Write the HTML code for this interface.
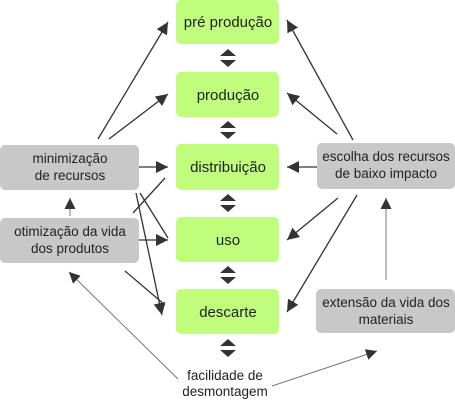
<!DOCTYPE html>
<html><head><meta charset="utf-8"><style>
html,body{margin:0;padding:0;background:#fff;}
svg{display:block;font-family:"Liberation Sans","DejaVu Sans",sans-serif;}
text{font-size:15px;fill:#222;text-anchor:middle;}
</style></head><body>
<svg width="455" height="400" viewBox="0 0 455 400">
<defs>
<marker id="a" viewBox="0 0 10 10" refX="10" refY="5" markerWidth="12" markerHeight="12" markerUnits="userSpaceOnUse" orient="auto"><path d="M0,0L10,5L0,10z" fill="#333"/></marker>
<marker id="g" viewBox="0 0 10 10" refX="10" refY="5" markerWidth="11" markerHeight="14" markerUnits="userSpaceOnUse" orient="auto"><path d="M0,0L10,5L0,10z" fill="#333"/></marker>
</defs>
<g fill="#c1fd7d">
<rect x="176" y="0" width="103" height="44" rx="5"/>
<rect x="176" y="72" width="103" height="45" rx="5"/>
<rect x="176" y="144" width="103" height="46" rx="5"/>
<rect x="176" y="217" width="103" height="45" rx="5"/>
<rect x="176" y="289" width="103" height="45" rx="5"/>
</g>
<g fill="#c8c8c8">
<rect x="0" y="145" width="139" height="45" rx="5"/>
<rect x="0" y="218" width="139" height="45" rx="5"/>
<rect x="317" y="143" width="138" height="46" rx="5"/>
<rect x="316" y="289" width="139" height="44" rx="5"/>
</g>
<g fill="#333">
<path d="M228,49l8,7h-16z M228,67l8,-7h-16z"/>
<path d="M228,121l8,7h-16z M228,139l8,-7h-16z"/>
<path d="M228,194l8,7h-16z M228,212l8,-7h-16z"/>
<path d="M228,266l8,7h-16z M228,284l8,-7h-16z"/>
<path d="M228,339l8,7h-16z M228,357l8,-7h-16z"/>
</g>
<g stroke="#333" stroke-width="1.3" fill="none">
<line x1="98" y1="139" x2="168" y2="22" marker-end="url(#a)"/>
<line x1="109" y1="139" x2="168" y2="94" marker-end="url(#a)"/>
<line x1="139" y1="167" x2="168" y2="167" marker-end="url(#a)"/>
<line x1="139" y1="240" x2="168" y2="240" marker-end="url(#a)"/>
<line x1="133" y1="213" x2="165" y2="178"/>
<line x1="140" y1="193" x2="168" y2="238"/>
<line x1="136" y1="193" x2="162" y2="315" marker-end="url(#a)"/>
<line x1="125" y1="271" x2="165" y2="305"/>
<line x1="353" y1="140" x2="287" y2="20" marker-end="url(#a)"/>
<line x1="337" y1="134" x2="287" y2="93" marker-end="url(#a)"/>
<line x1="317" y1="167" x2="287" y2="167" marker-end="url(#a)"/>
<line x1="338" y1="198" x2="287" y2="240" marker-end="url(#a)"/>
<line x1="357" y1="195" x2="287" y2="312" marker-end="url(#a)"/>
</g>
<g stroke="#777" stroke-width="1" fill="none">
<line x1="70" y1="216" x2="70" y2="198" marker-end="url(#g)"/>
<line x1="386" y1="280" x2="386" y2="198" marker-end="url(#g)"/>
<line x1="178" y1="379" x2="69" y2="272" marker-end="url(#g)"/>
<line x1="272" y1="386" x2="377" y2="351" marker-end="url(#g)"/>
</g>
<text x="228" y="27">pré produção</text>
<text x="228" y="100">produção</text>
<text x="228" y="172">distribuição</text>
<text x="228" y="245">uso</text>
<text x="228" y="317">descarte</text>
<text x="70" y="163" style="font-size:13.5px">minimização</text>
<text x="70" y="180" style="font-size:13.5px">de recursos</text>
<text x="70" y="236" style="font-size:13.5px">otimização da vida</text>
<text x="70" y="253" style="font-size:13.5px">dos produtos</text>
<text x="386" y="161" style="font-size:13.5px">escolha dos recursos</text>
<text x="386" y="178" style="font-size:13.5px">de baixo impacto</text>
<text x="386" y="307" style="font-size:13.5px">extensão da vida dos</text>
<text x="386" y="324" style="font-size:13.5px">materiais</text>
<text x="225" y="380" style="font-size:13.5px">facilidade de</text>
<text x="225" y="396" style="font-size:13.5px">desmontagem</text>
</svg>
</body></html>
